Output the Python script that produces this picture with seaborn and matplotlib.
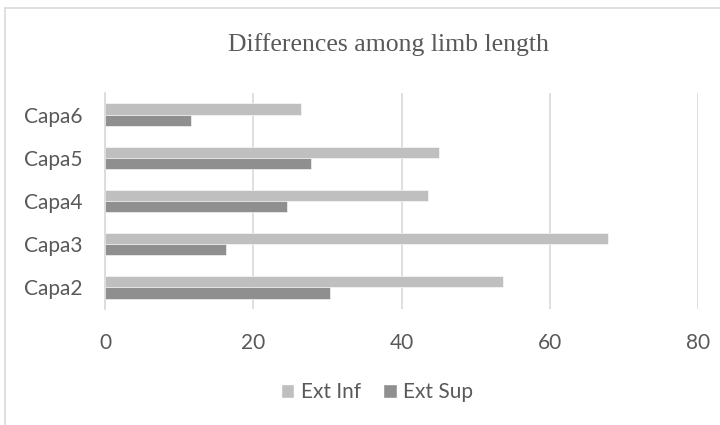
import pandas as pd
import matplotlib.pyplot as plt
import seaborn as sns
from matplotlib.patches import Rectangle

# values
capas = ['Capa6', 'Capa5', 'Capa4', 'Capa3', 'Capa2']
ext_inf = [26.4, 45.1, 43.6, 67.8, 53.7]
ext_sup = [11.6, 27.8, 24.5, 16.3, 30.4]
series = ['Ext Inf', 'Ext Sup']
colors = ['#BFBFBF', '#8F8F8F']
x_ticks = [0, 20, 40, 60, 80]

df = pd.DataFrame({
    'capa': capas * 2,
    'value': ext_inf + ext_sup,
    'series': [series[0]] * len(capas) + [series[1]] * len(capas),
})

sns.set_style('white')
plt.rcParams['font.family'] = ['Lato', 'DejaVu Sans']

fig = plt.figure(figsize=(7.2, 4.25), dpi=100)
ax = fig.add_axes([105 / 720, 1 - 309 / 425, 593 / 720, 216 / 425])

# outer chart border (light gray frame)
fig.patches.append(Rectangle((4.5 / 720, -0.05), 1.1, 1 - 7.5 / 425 + 0.05,
                             transform=fig.transFigure, fill=False,
                             edgecolor='#D9D9D9', linewidth=1.2, zorder=0))

sns.barplot(data=df, y='capa', x='value', hue='series', order=capas,
            hue_order=series, palette=colors, width=0.52, orient='h',
            edgecolor='white', linewidth=0.4, ax=ax, legend=True)

ax.set_xlim(0, 80)
ax.set_xticks(x_ticks)
ax.xaxis.grid(True, color='#D9D9D9', linewidth=1.2)
ax.set_axisbelow(True)
for s in ['top', 'right', 'bottom']:
    ax.spines[s].set_visible(False)
ax.spines['left'].set_color('#D9D9D9')
ax.spines['left'].set_linewidth(1.2)
ax.set_xlabel('')
ax.set_ylabel('')
ax.tick_params(axis='both', length=0, labelsize=15, labelcolor='#595959')
ax.tick_params(axis='x', pad=17)
ax.tick_params(axis='y', pad=16)

fig.text(388 / 720, 1 - 45 / 425, 'Differences among limb length',
         ha='center', va='center', fontsize=18.5, color='#595959',
         family=['Liberation Serif', 'DejaVu Serif'])

ax.legend_.remove()
handles = [Rectangle((0, 0), 1, 1, facecolor=c) for c in colors]
fig.legend(handles, series, loc='center', bbox_to_anchor=(377 / 720, 1 - 392 / 425),
           ncol=2, frameon=False, fontsize=15, labelcolor='#595959',
           handlelength=0.65, handleheight=0.65, handletextpad=0.3, columnspacing=1.1)

fig.savefig('out.png', dpi=100)
